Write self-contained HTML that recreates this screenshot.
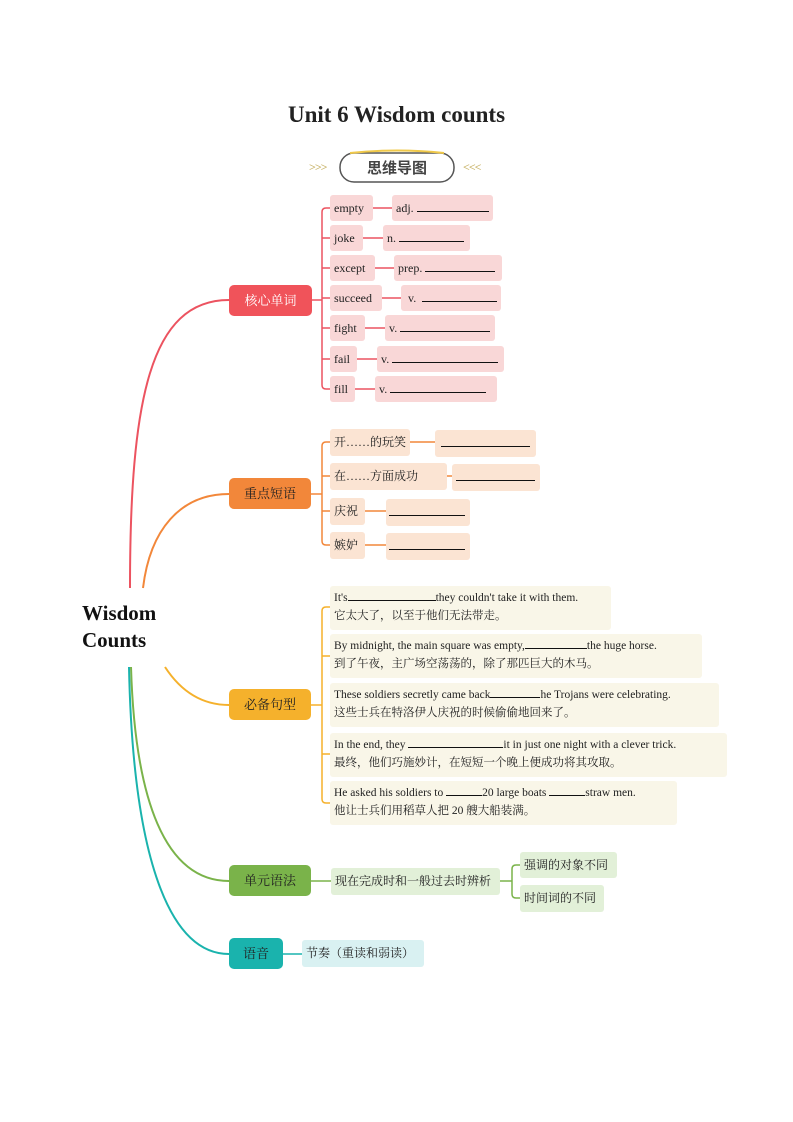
<!DOCTYPE html>
<html><head><meta charset="utf-8"><style>
body{margin:0;width:793px;height:1122px;background:#fff;position:relative;overflow:hidden;font-family:"Liberation Serif","Noto Serif CJK SC",serif;color:#222}
.a{position:absolute;box-sizing:border-box;white-space:nowrap}
.w{background:#f9d7d7;border-radius:3px;font-size:12px;line-height:26px;height:26px;padding-left:4px}
.p{background:#fbe4d3;border-radius:3px;font-size:12px;line-height:26px;height:27px;padding-left:4px}
.s{background:#f9f6e8;border-radius:3px;font-size:11.5px;line-height:18px;padding:3px 4px;height:44px}
.c{border-radius:5px;font-size:13px;line-height:31px;height:31px;text-align:center;color:#222}
u{text-decoration:none;border-bottom:1px solid #111;display:inline-block;height:10px;vertical-align:baseline}
</style></head><body>
<svg class="a" style="left:0;top:0" width="793" height="1122">
<g fill="none" stroke-width="2">
<path d="M130 588 C130 400 150 300 229 300" stroke="#ec5360"/>
<path d="M143 588 C150 530 180 494 229 494" stroke="#f2873a"/>
<path d="M165 667 C180 690 200 705 229 705" stroke="#f5b12c"/>
<path d="M131 667 C135 800 165 881 229 881" stroke="#7ab34a"/>
<path d="M129 667 C133 860 170 954 229 954" stroke="#1ab3ad"/>
</g>
<g fill="none" stroke="#ec5360" stroke-width="1.5">
<path d="M312 300 H322"/><path d="M326 208 Q322 208 322 212 V385 Q322 389 326 389"/>
<path d="M322 238H330M322 268H330M322 298H330M322 328H330M322 359H330"/>
<path d="M326 208H330"/><path d="M326 389H330"/>
<path d="M373 208H392M363 238H383M375 268H394M382 298H401M365 328H385M357 359H377M355 389H375"/>
</g>
<g fill="none" stroke="#f2873a" stroke-width="1.5">
<path d="M311 494 H322"/><path d="M330 442 H326 Q322 442 322 446 V541 Q322 545 326 545 H330"/>
<path d="M322 476H330M322 511H330"/>
<path d="M410 442H435M447 476H452M365 511H386M365 545H386"/>
</g>
<g fill="none" stroke="#f5b12c" stroke-width="1.5">
<path d="M311 705 H322"/><path d="M330 607 H326 Q322 607 322 611 V799 Q322 803 326 803 H330"/>
<path d="M322 656H330M322 754H330"/>
</g>
<g fill="none" stroke="#7ab34a" stroke-width="1.5">
<path d="M311 881 H331"/><path d="M500 881 H512"/>
<path d="M520 865 H516 Q512 865 512 869 V894 Q512 898 516 898 H520"/>
</g>
<path d="M283 954 H302" stroke="#1ab3ad" stroke-width="1.5"/>
<rect x="340" y="153" width="114" height="29" rx="14" fill="#fff" stroke="#555" stroke-width="1.5"/>
<path d="M350 153 Q397 148 444 153" stroke="#f0c94a" stroke-width="2" fill="none"/>
</svg>
<div class="a" style="left:0;width:793px;top:102px;text-align:center;font-weight:bold;font-size:23px">Unit 6 Wisdom counts</div>
<div class="a" style="left:309px;top:160px;font-size:12px;font-weight:bold;color:#c9b46a;letter-spacing:-1px">&gt;&gt;&gt;</div>
<div class="a" style="left:463px;top:160px;font-size:12px;font-weight:bold;color:#c9b46a;letter-spacing:-1px">&lt;&lt;&lt;</div>
<div class="a" style="left:340px;top:156px;width:114px;text-align:center;font-family:'Noto Sans CJK SC',sans-serif;font-weight:bold;font-size:15px;line-height:24px;color:#444">思维导图</div>
<div class="a" style="left:82px;top:600px;font-weight:bold;font-size:21px;line-height:27px;color:#111">Wisdom<br>Counts</div>

<div class="a c" style="left:229px;top:285px;width:83px;background:#f0535a;color:#fff">核心单词</div>
<div class="a c" style="left:229px;top:478px;width:82px;background:#f2873a">重点短语</div>
<div class="a c" style="left:229px;top:689px;width:82px;background:#f5b12c">必备句型</div>
<div class="a c" style="left:229px;top:865px;width:82px;background:#7ab34a">单元语法</div>
<div class="a c" style="left:229px;top:938px;width:54px;background:#1ab3ad">语音</div>

<div class="a w" style="left:330px;top:195px;width:43px">empty</div>
<div class="a w" style="left:392px;top:195px;width:101px">adj. <u style="width:72px"></u></div>
<div class="a w" style="left:330px;top:225px;width:33px">joke</div>
<div class="a w" style="left:383px;top:225px;width:87px">n. <u style="width:65px"></u></div>
<div class="a w" style="left:330px;top:255px;width:45px">except</div>
<div class="a w" style="left:394px;top:255px;width:108px">prep. <u style="width:70px"></u></div>
<div class="a w" style="left:330px;top:285px;width:52px">succeed</div>
<div class="a w" style="left:401px;top:285px;width:100px">&nbsp;v. &nbsp;<u style="width:75px"></u></div>
<div class="a w" style="left:330px;top:315px;width:35px">fight</div>
<div class="a w" style="left:385px;top:315px;width:110px">v. <u style="width:90px"></u></div>
<div class="a w" style="left:330px;top:346px;width:27px">fail</div>
<div class="a w" style="left:377px;top:346px;width:127px">v. <u style="width:106px"></u></div>
<div class="a w" style="left:330px;top:376px;width:25px">fill</div>
<div class="a w" style="left:375px;top:376px;width:122px">v. <u style="width:96px"></u></div>

<div class="a p" style="left:330px;top:429px;width:80px">开……的玩笑</div>
<div class="a p" style="left:435px;top:430px;width:101px;padding-left:6px"><u style="width:89px"></u></div>
<div class="a p" style="left:330px;top:463px;width:117px">在……方面成功</div>
<div class="a p" style="left:452px;top:464px;width:88px;padding-left:4px"><u style="width:79px"></u></div>
<div class="a p" style="left:330px;top:498px;width:35px">庆祝</div>
<div class="a p" style="left:386px;top:499px;width:84px;padding-left:3px"><u style="width:76px"></u></div>
<div class="a p" style="left:330px;top:532px;width:35px">嫉妒</div>
<div class="a p" style="left:386px;top:533px;width:84px;padding-left:3px"><u style="width:76px"></u></div>

<div class="a s" style="left:330px;top:586px;width:281px">It's<u style="width:88px"></u>they couldn't take it with them.<br>它太大了，以至于他们无法带走。</div>
<div class="a s" style="left:330px;top:634px;width:372px">By midnight, the main square was empty,<u style="width:62px"></u>the huge horse.<br>到了午夜，主广场空荡荡的，除了那匹巨大的木马。</div>
<div class="a s" style="left:330px;top:683px;width:389px">These soldiers secretly came back<u style="width:50px"></u>he Trojans were celebrating.<br>这些士兵在特洛伊人庆祝的时候偷偷地回来了。</div>
<div class="a s" style="left:330px;top:733px;width:397px">In the end, they <u style="width:95px"></u>it in just one night with a clever trick.<br>最终，他们巧施妙计，在短短一个晚上便成功将其攻取。</div>
<div class="a s" style="left:330px;top:781px;width:347px">He asked his soldiers to <u style="width:36px"></u>20 large boats <u style="width:36px"></u>straw men.<br>他让士兵们用稻草人把 20 艘大船装满。</div>

<div class="a" style="left:331px;top:868px;width:169px;height:27px;line-height:27px;background:#e2f0d8;border-radius:3px;font-size:12px;padding-left:4px">现在完成时和一般过去时辨析</div>
<div class="a" style="left:520px;top:852px;width:97px;height:26px;line-height:26px;background:#e2f0d8;border-radius:3px;font-size:12px;padding-left:4px">强调的对象不同</div>
<div class="a" style="left:520px;top:885px;width:84px;height:27px;line-height:27px;background:#e2f0d8;border-radius:3px;font-size:12px;padding-left:4px">时间词的不同</div>
<div class="a" style="left:302px;top:940px;width:122px;height:27px;line-height:27px;background:#d9f1f2;border-radius:3px;font-size:12px;padding-left:4px">节奏（重读和弱读）</div>
</body></html>
